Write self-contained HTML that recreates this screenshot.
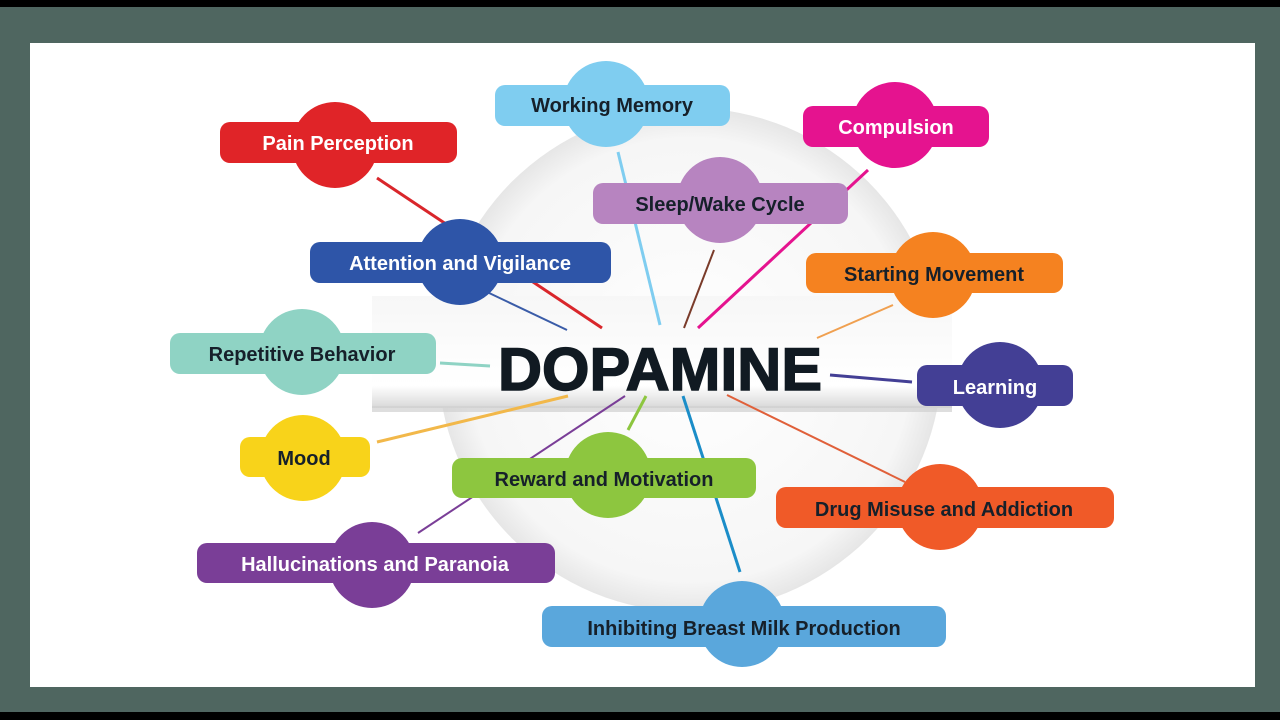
<!DOCTYPE html>
<html><head><meta charset="utf-8"><style>
html,body{margin:0;padding:0;width:1280px;height:720px;overflow:hidden;background:#000}
svg{display:block}
text{font-family:"Liberation Sans",sans-serif;font-weight:bold}
</style></head><body>
<svg width="1280" height="720" viewBox="0 0 1280 720">
<defs>
<radialGradient id="cg" cx="50%" cy="50%" r="50%">
<stop offset="0%" stop-color="#ffffff"/><stop offset="88%" stop-color="#f6f6f6"/><stop offset="100%" stop-color="#e6e6e6"/>
</radialGradient>
<linearGradient id="bar" x1="0" y1="0" x2="0" y2="1">
<stop offset="0%" stop-color="#f7f7f7"/><stop offset="80%" stop-color="#ffffff"/><stop offset="100%" stop-color="#d8d8d8"/>
</linearGradient>
</defs>
<rect x="0" y="0" width="1280" height="720" fill="#000"/>
<rect x="0" y="7" width="1280" height="705" fill="#4f6660"/>
<rect x="30" y="43" width="1225" height="644" fill="#fff"/>
<circle cx="690" cy="360" r="252" fill="url(#cg)"/>
<rect x="372" y="296" width="580" height="112" fill="url(#bar)"/>
<rect x="372" y="406" width="580" height="6" fill="#d0d0d0" opacity="0.7"/>
<g stroke-width="3" fill="none">
<line x1="377" y1="178" x2="602" y2="328" stroke="#d9262b"/>
<line x1="487" y1="292" x2="567" y2="330" stroke="#3a5ca8" stroke-width="2"/>
<line x1="618" y1="152" x2="660" y2="325" stroke="#7fcdf0"/>
<line x1="714" y1="250" x2="684" y2="328" stroke="#7a3b2a" stroke-width="2"/>
<line x1="868" y1="170" x2="698" y2="328" stroke="#e5138f"/>
<line x1="893" y1="305" x2="817" y2="338" stroke="#f0a050" stroke-width="2"/>
<line x1="440" y1="363" x2="490" y2="366" stroke="#8fd3c4"/>
<line x1="830" y1="375" x2="912" y2="382" stroke="#433f95"/>
<line x1="377" y1="442" x2="568" y2="396" stroke="#f2b84a"/>
<line x1="418" y1="533" x2="625" y2="396" stroke="#7a3e97" stroke-width="2"/>
<line x1="628" y1="430" x2="646" y2="396" stroke="#8dc63f"/>
<line x1="683" y1="396" x2="740" y2="572" stroke="#1b8dc8"/>
<line x1="727" y1="395" x2="905" y2="482" stroke="#e0603a" stroke-width="2"/>
</g>
<text x="660" y="390" font-size="60" text-anchor="middle" fill="#111a22" stroke="#111a22" stroke-width="1.5" textLength="324" lengthAdjust="spacingAndGlyphs">DOPAMINE</text>

<g font-size="20" text-anchor="middle">
<circle cx="606" cy="104" r="43" fill="#7fcdf0"/><rect x="495" y="85" width="235" height="41" rx="10" fill="#7fcdf0"/>
<text x="612" y="112" fill="#16202a">Working Memory</text>
<circle cx="335" cy="145" r="43" fill="#e02428"/><rect x="220" y="122" width="237" height="41" rx="10" fill="#e02428"/>
<text x="338" y="150" fill="#fff">Pain Perception</text>
<circle cx="895" cy="125" r="43" fill="#e5138f"/><rect x="803" y="106" width="186" height="41" rx="10" fill="#e5138f"/>
<text x="896" y="134" fill="#fff">Compulsion</text>
<circle cx="720" cy="200" r="43" fill="#b784c0"/><rect x="593" y="183" width="255" height="41" rx="10" fill="#b784c0"/>
<text x="720" y="211" fill="#16202a">Sleep/Wake Cycle</text>
<circle cx="460" cy="262" r="43" fill="#2e55a8"/><rect x="310" y="242" width="301" height="41" rx="10" fill="#2e55a8"/>
<text x="460" y="270" fill="#fff">Attention and Vigilance</text>
<circle cx="933" cy="275" r="43" fill="#f58220"/><rect x="806" y="253" width="257" height="40" rx="10" fill="#f58220"/>
<text x="934" y="281" fill="#16202a">Starting Movement</text>
<circle cx="302" cy="352" r="43" fill="#8fd3c4"/><rect x="170" y="333" width="266" height="41" rx="10" fill="#8fd3c4"/>
<text x="302" y="361" fill="#16202a">Repetitive Behavior</text>
<circle cx="1000" cy="385" r="43" fill="#433f95"/><rect x="917" y="365" width="156" height="41" rx="10" fill="#433f95"/>
<text x="995" y="394" fill="#fff">Learning</text>
<circle cx="303" cy="458" r="43" fill="#f8d31a"/><rect x="240" y="437" width="130" height="40" rx="10" fill="#f8d31a"/>
<text x="304" y="465" fill="#16202a">Mood</text>
<circle cx="608" cy="475" r="43" fill="#8dc63f"/><rect x="452" y="458" width="304" height="40" rx="10" fill="#8dc63f"/>
<text x="604" y="486" fill="#16202a">Reward and Motivation</text>
<circle cx="940" cy="507" r="43" fill="#f05a28"/><rect x="776" y="487" width="338" height="41" rx="10" fill="#f05a28"/>
<text x="944" y="516" fill="#16202a">Drug Misuse and Addiction</text>
<circle cx="372" cy="565" r="43" fill="#7a3e97"/><rect x="197" y="543" width="358" height="40" rx="10" fill="#7a3e97"/>
<text x="375" y="571" fill="#fff">Hallucinations and Paranoia</text>
<circle cx="742" cy="624" r="43" fill="#5aa7dc"/><rect x="542" y="606" width="404" height="41" rx="10" fill="#5aa7dc"/>
<text x="744" y="635" fill="#16202a">Inhibiting Breast Milk Production</text>
</g>
</svg>
</body></html>
